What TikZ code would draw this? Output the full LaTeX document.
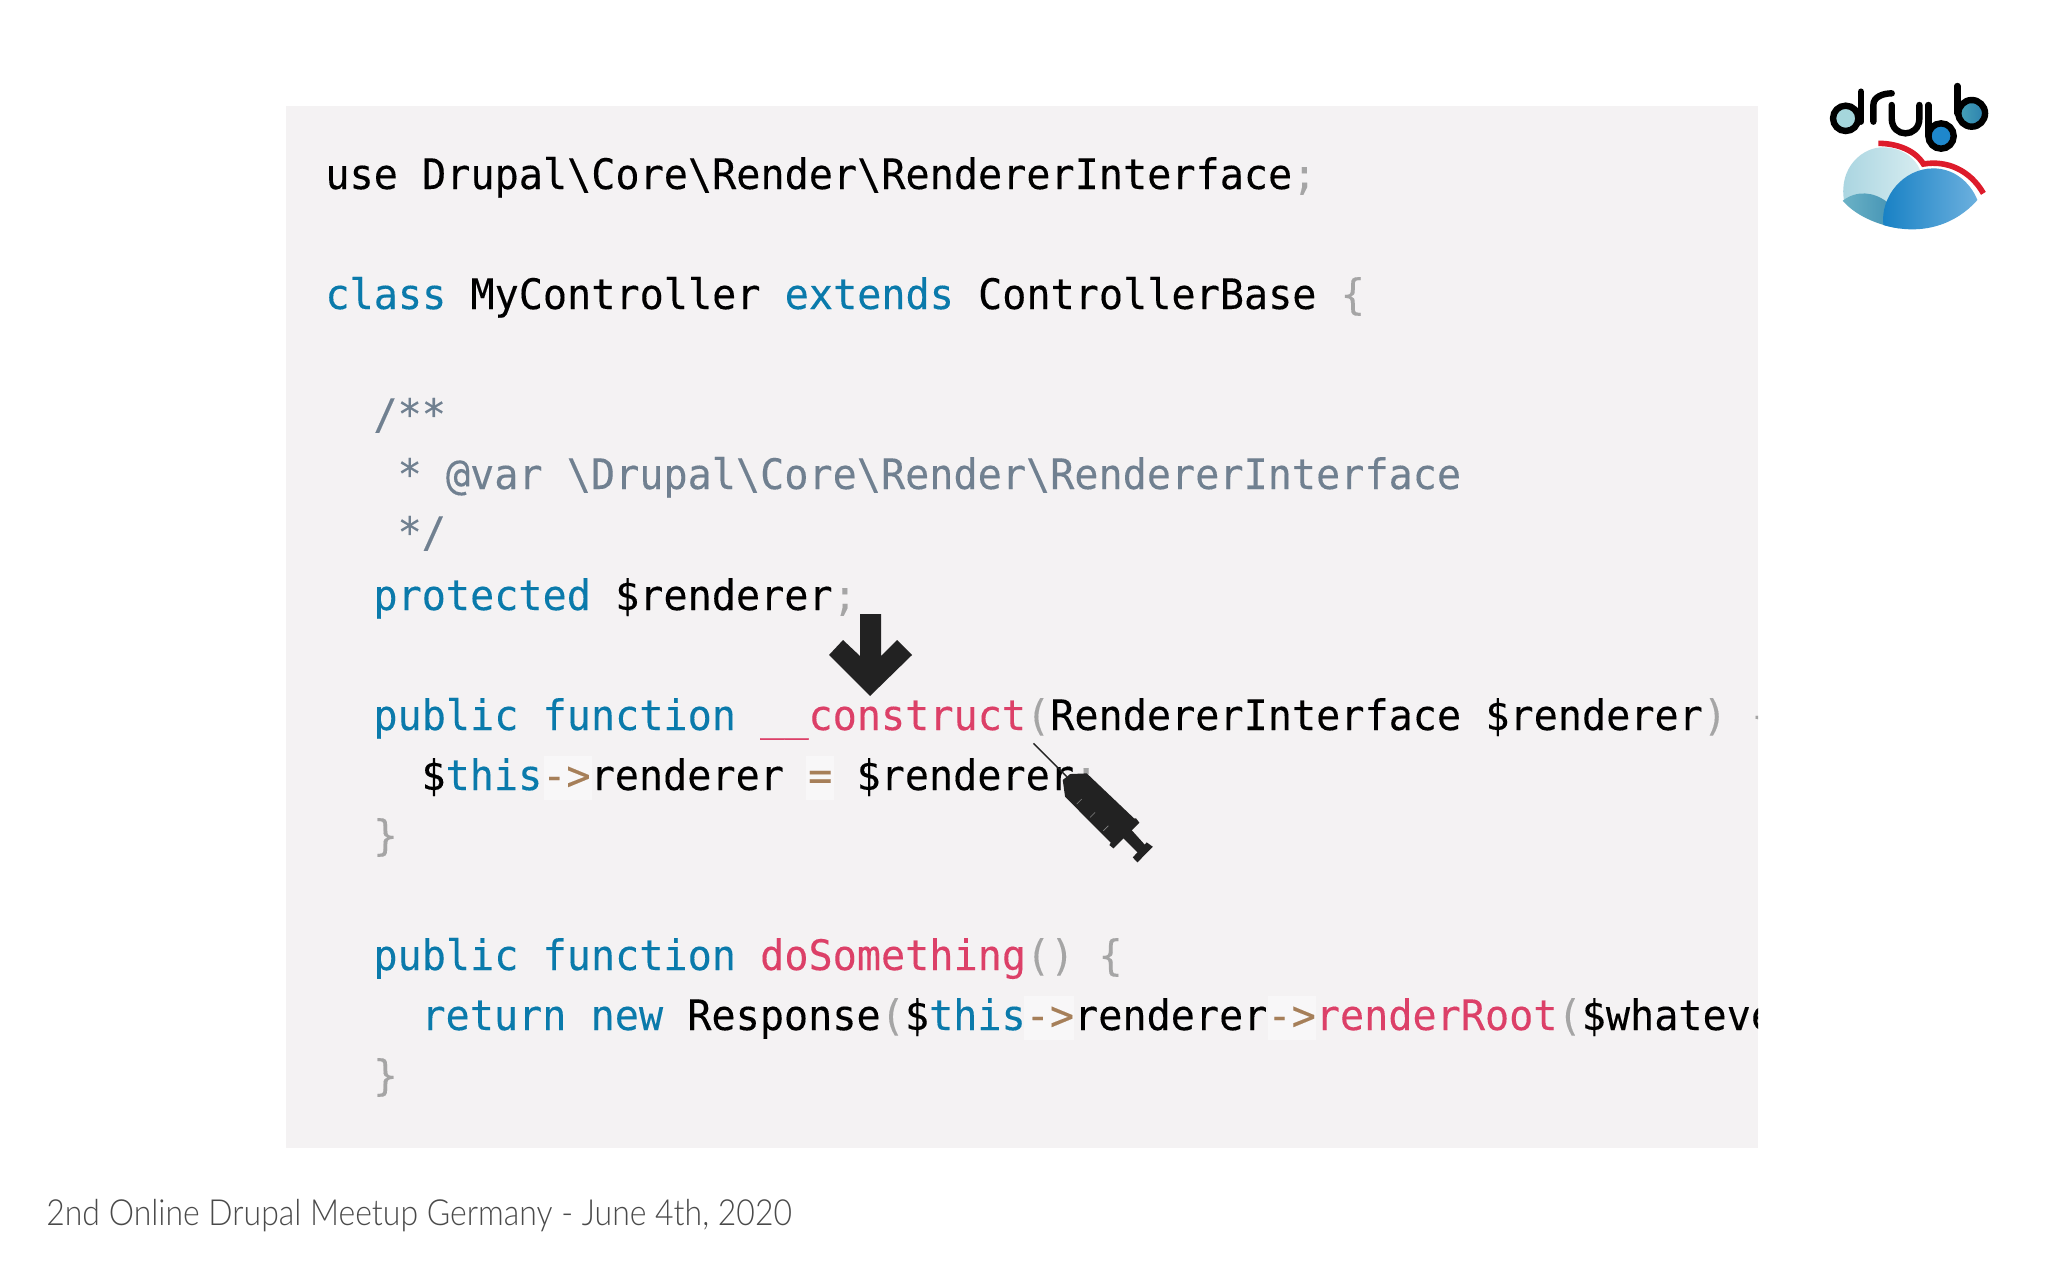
\documentclass[tikz,border=0pt]{standalone}
\usepackage{fontspec}
\setmainfont{Lato}
\newfontfamily\footfont{Lato Light}
\setmonofont{DejaVu Sans Mono}[FakeStretch=0.956, FakeBold=0.2]
\definecolor{panelbg}{HTML}{F4F2F3}
\definecolor{kwblue}{HTML}{0A7AAB}
\definecolor{fnpink}{HTML}{DC4068}
\definecolor{opbrown}{HTML}{A67F59}
\definecolor{punctgray}{HTML}{A5A5A5}
\definecolor{docgray}{HTML}{708090}
\definecolor{footgray}{HTML}{4A4A4A}
\definecolor{iconblack}{HTML}{222222}
\definecolor{logored}{HTML}{DD1B2B}
\newcommand{\kw}[1]{\textcolor{kwblue}{#1}}
\newcommand{\fn}[1]{\textcolor{fnpink}{#1}}
\newcommand{\pn}[1]{\textcolor{punctgray}{#1}}
\newcommand{\op}[1]{\textcolor{opbrown}{#1}}
\newcommand{\bs}{\textbackslash}
\tikzset{
	codeline/.style={anchor=base west, inner sep=0pt, font=\ttfamily\fontsize{21}{24}\selectfont, text=black},
	oppatch/.style={fill=white, fill opacity=0.45, draw=none},
	logoink/.style={draw=black, line width=3.2pt, line cap=round}
}

\begin{document}
\begin{tikzpicture}[x=0.5pt, y=-0.5pt]
		\useasboundingbox (0, 0) rectangle (2048, 1280);
		\fill[white] (0, 0) rectangle (2048, 1280);
		%%%%% PANEL %%%%%
		\fill[panelbg] (286, 106) rectangle (1758, 1148);
		
		\fill[oppatch] (806, 756) rectangle (834, 800);
		\fill[oppatch] (544, 756) rectangle (592, 800);
		\fill[oppatch] (1024, 996) rectangle (1074, 1040);
		\fill[oppatch] (1268, 996) rectangle (1316, 1040);
		
		\begin{scope}
			\clip (286, 106) rectangle (1758, 1148);
			\node[codeline] (useline) at (325, 189) {use Drupal\bs Core\bs Render\bs RendererInterface\pn{;}};
			\node[codeline] (classline) at (325, 309) {\kw{class} MyController \kw{extends} ControllerBase \pn{\{}};
			\node[codeline, text=docgray] (docopen) at (373, 429) {/**};
			\node[codeline, text=docgray] (docvar) at (373, 489) {\ * @var \bs Drupal\bs Core\bs Render\bs RendererInterface};
			\node[codeline, text=docgray] (docclose) at (373, 547) {\ */};
			\node[codeline] (propline) at (373, 610) {\kw{protected} \$renderer\pn{;}};
			\node[codeline] (ctorline) at (373, 730) {\kw{public} \kw{function} \fn{\_\_construct}\pn{(}RendererInterface \$renderer\pn{)} \pn{\{}};
			\node[codeline] (thisline) at (421, 790) {\$\kw{this}\op{->}renderer \op{=} \$renderer\pn{;}};
			\node[codeline] (ctorclose) at (373, 850) {\pn{\}}};
			\node[codeline] (methodline) at (373, 970) {\kw{public} \kw{function} \fn{doSomething}\pn{()} \pn{\{}};
			\node[codeline] (returnline) at (421, 1030) {\kw{return} \kw{new} Response\pn{(}\$\kw{this}\op{->}renderer\op{->}\fn{renderRoot}\pn{(}\$whatever\pn{));}};
			\node[codeline] (methodclose) at (373, 1090) {\pn{\}}};
		\end{scope}
		
		%%%%% ARROW %%%%%
		\fill[iconblack] (860, 614) -- (881, 614) -- (881, 656) -- (897, 640) -- (912, 655) -- (870, 696) -- (829, 655) -- (843, 640) -- (860, 656) -- cycle;
		
		%%%%% SYRINGE %%%%%
		\begin{scope}[shift={(780, 580)}, x=0.1667pt, y=-0.1667pt]
			\draw[iconblack, line width=0.7pt] (760, 490) -- (860, 590);
			\fill[iconblack] (848, 600) -- (870, 582) -- (920, 580) -- (1062, 715) -- (1068, 715) -- (1078, 728) -- (1000, 805) -- (988, 795) -- (992, 788) -- (855, 650) -- cycle;
			\fill[iconblack] (1025, 770) -- (1050, 745) -- (1095, 795) -- (1075, 820) -- cycle;
			\fill[iconblack] (1100, 787) -- (1118, 800) -- (1072, 847) -- (1058, 832) -- cycle;
			\draw[white!45!iconblack, line width=0.3pt] (890, 672) -- (905, 657) (930, 712) -- (945, 697) (970, 752) -- (985, 737);
		\end{scope}
		
		%%%%% LOGO %%%%%
		\definecolor{palebowl}{HTML}{A5D6DC}
		\definecolor{midbowl}{HTML}{1E87CC}
		\definecolor{tealleft}{HTML}{46A3B8}
		\definecolor{tealright}{HTML}{2C80AE}
		\definecolor{hillleft}{HTML}{A8D4E0}
		\definecolor{hillright}{HTML}{D6ECF0}
		\definecolor{lowleft}{HTML}{6BB2C6}
		\definecolor{lowright}{HTML}{3F8FB2}
		\definecolor{bigleft}{HTML}{1680C4}
		\definecolor{bigright}{HTML}{6CB0DE}
		\begin{scope}[shift={(1780, 60)}, x=0.1667pt, y=-0.1667pt]
			\fill[palebowl] (197, 175) circle (38);
			\draw[logoink] (197, 175) circle (38);
			\draw[logoink] (243, 95) -- (243, 185);
			\draw[logoink] (280, 185) -- (280, 135) .. controls (280, 110) and (310, 100) .. (335, 100);
			\draw[logoink] (335, 135) -- (335, 175) .. controls (335, 235) and (418, 235) .. (418, 175) -- (418, 135);
			\fill[midbowl] (483, 228) circle (38);
			\draw[logoink] (483, 228) circle (38);
			\draw[logoink] (445, 135) -- (445, 225);
			\shade[left color=tealleft, right color=tealright] (575, 160) circle (40);
			\draw[logoink] (575, 160) circle (40);
			\draw[logoink] (532, 78) -- (532, 160);
			%%%%% CLOUD %%%%%
			\draw[logored, line width=2.8pt] (295, 250) .. controls (350, 250) and (405, 270) .. (430, 312) .. controls (500, 300) and (570, 330) .. (610, 400);
			\shade[left color=hillleft, right color=hillright] (192, 422) .. controls (175, 320) and (250, 260) .. (310, 262) .. controls (360, 262) and (405, 290) .. (420, 330) -- (320, 495) .. controls (270, 480) and (220, 460) .. (192, 422) -- cycle;
			\shade[left color=lowleft, right color=lowright] (188, 422) .. controls (230, 390) and (280, 395) .. (320, 425) .. controls (345, 445) and (355, 475) .. (358, 505) .. controls (290, 495) and (225, 465) .. (188, 422) -- cycle;
			\shade[left color=bigleft, right color=bigright] (310, 495) .. controls (300, 410) and (370, 325) .. (460, 325) .. controls (520, 325) and (570, 365) .. (592, 420) .. controls (530, 490) and (430, 530) .. (310, 495) -- cycle;
		\end{scope}
		
		%%%%% FOOTER %%%%%
		\node[anchor=base west, inner sep=0pt, text=footgray, xscale=0.888, font=\footfont\fontsize{18}{21}\selectfont] (footer) at (46, 1225) {2nd Online Drupal Meetup Germany - June 4th, 2020};
	\end{tikzpicture}
\end{document}
